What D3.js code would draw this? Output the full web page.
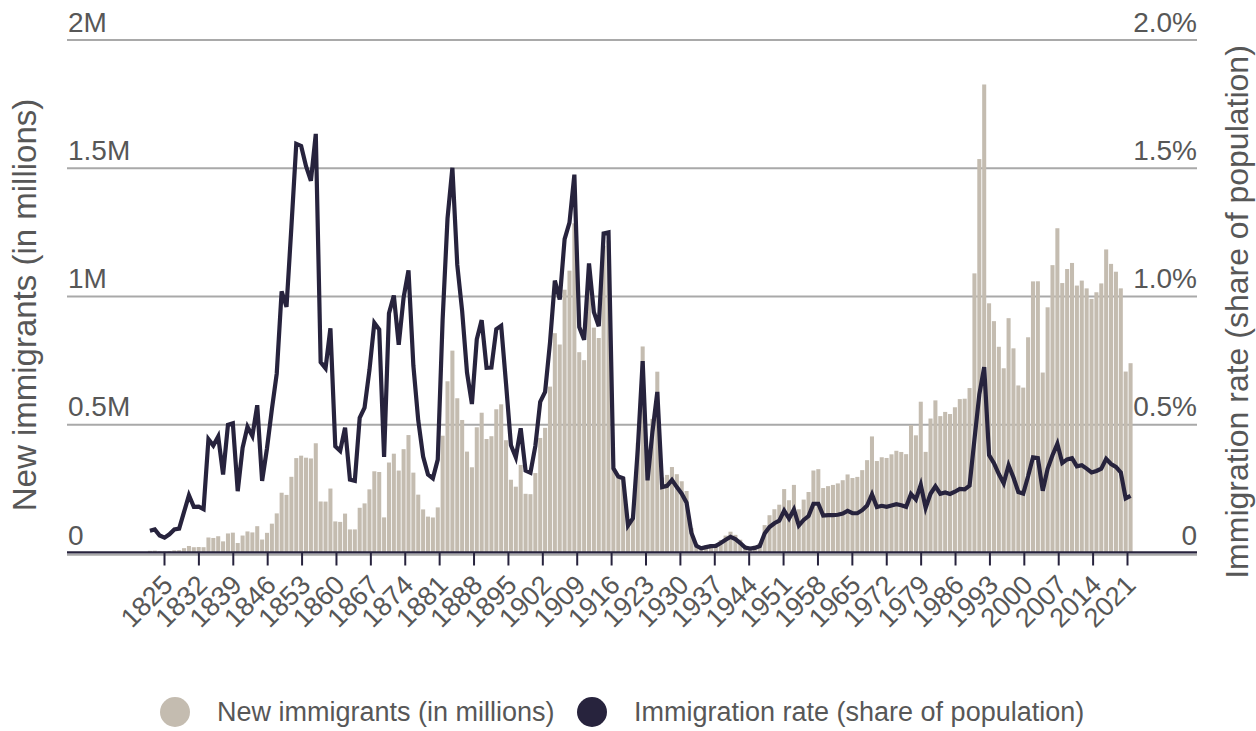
<!DOCTYPE html>
<html><head><meta charset="utf-8">
<script src="https://cdn.jsdelivr.net/npm/d3@7"></script>
<style>
body{margin:0;background:#fff}
svg text{font-family:"Liberation Sans",Arial,sans-serif;fill:#575757}
</style>
</head><body>
<svg id="chart" width="1256" height="731"></svg>
<script>
// ---------- data ----------
const firstYear = 1820, lastYear = 2021;
const years = d3.range(firstYear, lastYear + 1);

// New immigrants per year (persons)
const immigrants = [
  8385, 9127, 6911, 6354, 7912, 10199, 10837, 18875, 27382, 22520,
  23322, 22633, 60482, 58640, 65365, 45374, 76242, 79340, 38914, 68069,
  84066, 80289, 104565, 52496, 78615, 114371, 154416, 234968, 226527, 297024,
  369980, 379466, 371603, 368645, 427833, 200877, 200436, 251306, 123126, 121282,
  153640, 91918, 91985, 176282, 193418, 248120, 318568, 315722, 138840, 352768,
  387203, 321350, 404806, 459803, 313339, 227498, 169986, 141857, 138469, 177826,
  457257, 669431, 788992, 603322, 518592, 395346, 334203, 490109, 546889, 444427,
  455302, 560319, 579663, 439730, 285631, 258536, 343267, 230832, 229299, 311715,
  448572, 487918, 648743, 857046, 812870, 1026499, 1100735, 1285349, 782870, 751786,
  1041570, 878587, 838172, 1197892, 1218480, 326700, 298826, 295403, 110618, 141132,
  430001, 805228, 309556, 522919, 706896, 294314, 304488, 335175, 307255, 279678,
  241700, 97139, 35576, 23068, 29470, 34956, 36329, 50244, 67895, 82998,
  70756, 51776, 28781, 23725, 28551, 38119, 108721, 147292, 170570, 188317,
  249187, 205717, 265520, 170434, 208177, 237790, 321625, 326867, 253265, 260686,
  265398, 271344, 283763, 306260, 292248, 296697, 323040, 361972, 454448, 358579,
  373326, 370478, 384685, 398515, 393919, 385378, 499093, 458755, 589810, 394244,
  524295, 595014, 533624, 550052, 541811, 568149, 600027, 601516, 643025, 1090172,
  1535872, 1826595, 973445, 903916, 803993, 720177, 915560, 797847, 653206, 644787,
  841002, 1058902, 1059356, 703542, 957883, 1122257, 1266129, 1052415, 1107126, 1130818,
  1042625, 1062040, 1031631, 990553, 1016518, 1051031, 1183505, 1127167, 1096611, 1031765,
  707362, 740002
];

// Immigration rate, % of population
const rate = [
  0.087, 0.092, 0.068, 0.060, 0.073, 0.092, 0.095, 0.160, 0.225, 0.180,
  0.181, 0.171, 0.444, 0.419, 0.454, 0.306, 0.500, 0.506, 0.241, 0.410,
  0.492, 0.456, 0.576, 0.281, 0.408, 0.560, 0.700, 1.020, 0.960, 1.270,
  1.595, 1.587, 1.508, 1.451, 1.634, 0.744, 0.720, 0.876, 0.416, 0.398,
  0.489, 0.286, 0.281, 0.527, 0.567, 0.713, 0.897, 0.871, 0.375, 0.934,
  1.004, 0.812, 0.996, 1.102, 0.731, 0.517, 0.376, 0.306, 0.291, 0.364,
  0.911, 1.304, 1.502, 1.123, 0.943, 0.703, 0.581, 0.833, 0.908, 0.722,
  0.723, 0.873, 0.886, 0.659, 0.420, 0.373, 0.486, 0.321, 0.313, 0.417,
  0.589, 0.628, 0.819, 1.062, 0.988, 1.224, 1.288, 1.475, 0.881, 0.831,
  1.129, 0.939, 0.884, 1.246, 1.250, 0.330, 0.298, 0.291, 0.107, 0.135,
  0.406, 0.748, 0.283, 0.472, 0.628, 0.257, 0.262, 0.285, 0.257, 0.231,
  0.196, 0.078, 0.028, 0.018, 0.023, 0.027, 0.028, 0.039, 0.052, 0.063,
  0.054, 0.039, 0.021, 0.017, 0.020, 0.027, 0.076, 0.101, 0.116, 0.126,
  0.165, 0.134, 0.170, 0.107, 0.129, 0.144, 0.192, 0.192, 0.146, 0.148,
  0.148, 0.149, 0.154, 0.164, 0.155, 0.155, 0.167, 0.185, 0.229, 0.179,
  0.184, 0.180, 0.185, 0.190, 0.186, 0.180, 0.230, 0.209, 0.266, 0.176,
  0.231, 0.260, 0.231, 0.236, 0.230, 0.239, 0.250, 0.248, 0.263, 0.442,
  0.618, 0.725, 0.382, 0.350, 0.308, 0.272, 0.342, 0.294, 0.238, 0.232,
  0.299, 0.373, 0.370, 0.243, 0.328, 0.381, 0.426, 0.351, 0.365, 0.370,
  0.338, 0.342, 0.329, 0.314, 0.320, 0.329, 0.367, 0.347, 0.336, 0.314,
  0.213, 0.223
];

const xTickYears = [1825, 1832, 1839, 1846, 1853, 1860, 1867, 1874, 1881, 1888, 1895,
  1902, 1909, 1916, 1923, 1930, 1937, 1944, 1951, 1958, 1965, 1972, 1979, 1986,
  1993, 2000, 2007, 2014, 2021];
const leftTicks = [0, 500000, 1000000, 1500000, 2000000];
const leftTickLabels = ["0", "0.5M", "1M", "1.5M", "2M"];
const rightTicks = [0, 0.5, 1.0, 1.5, 2.0];
const rightTickLabels = ["0", "0.5%", "1.0%", "1.5%", "2.0%"];
const seriesNames = ["New immigrants (in millions)", "Immigration rate (share of population)"];
const leftTitle = "New immigrants (in millions)";
const rightTitle = "Immigration rate (share of population)";

// ---------- layout ----------
const C_BAR = "#c4bcb0", C_LINE = "#27233d", C_GRID = "#a9a9a9", C_TEXT = "#575757";
const plotL = 67, plotR = 1197, y0 = 553, yTop = 40;

const svg = d3.select("#chart");

const xBand = d3.scaleBand().domain(years).range([147.46, 1133.0])
  .paddingInner(0.17).paddingOuter(0.085);
const xTick = d3.scaleLinear().domain([1825, 2021]).range([164, 1127]);
const yL = d3.scaleLinear().domain([0, 2000000]).range([y0, yTop]);
const yR = d3.scaleLinear().domain([0, 2]).range([y0, yTop]);

// gridlines
svg.append("g").selectAll("line").data(leftTicks).join("line")
  .attr("x1", plotL).attr("x2", plotR)
  .attr("y1", d => d === 0 ? yL(d) + 1.8 : yL(d))
  .attr("y2", d => d === 0 ? yL(d) + 1.8 : yL(d))
  .attr("stroke", C_GRID).attr("stroke-width", 2);

// left tick labels
svg.append("g").selectAll("text").data(leftTicks).join("text")
  .attr("x", 68).attr("y", d => yL(d) - 8.5)
  .attr("font-size", 28).style("fill", C_TEXT)
  .text((d, i) => leftTickLabels[i]);

// right tick labels
svg.append("g").selectAll("text").data(rightTicks).join("text")
  .attr("x", plotR).attr("y", d => yR(d) - 8.5)
  .attr("text-anchor", "end")
  .attr("font-size", 28).style("fill", C_TEXT)
  .text((d, i) => rightTickLabels[i]);

// bars
svg.append("g").selectAll("rect").data(years).join("rect")
  .attr("x", d => xBand(d))
  .attr("width", xBand.bandwidth())
  .attr("y", (d, i) => yL(immigrants[i]))
  .attr("height", (d, i) => y0 - yL(immigrants[i]))
  .attr("fill", C_BAR);

// line
const line = d3.line()
  .x((d, i) => xBand(years[i]) + xBand.bandwidth() / 2)
  .y(d => yR(d));
svg.append("path").datum(rate)
  .attr("d", line)
  .attr("fill", "none")
  .attr("stroke", C_LINE)
  .attr("stroke-width", 4.2)
  .attr("stroke-linejoin", "miter")
  .attr("stroke-miterlimit", 4);

// bottom axis
const axis = d3.axisBottom(xTick).tickValues(xTickYears).tickFormat(d3.format("d"))
  .tickSize(13).tickSizeOuter(0);
const gx = svg.append("g").attr("transform", `translate(0,${y0 - 0.5})`).call(axis);
gx.select(".domain").remove();
gx.selectAll(".tick line").attr("stroke", C_LINE).attr("stroke-width", 2);
gx.selectAll(".tick text")
  .attr("x", 0).attr("y", 0).attr("dy", 0)
  .attr("text-anchor", "end")
  .attr("transform", "translate(10,34) rotate(-45)")
  .attr("font-size", 27)
  .attr("font-family", "Liberation Sans, Arial, sans-serif")
  .style("fill", C_TEXT);
svg.append("line")
  .attr("x1", plotL).attr("x2", plotR)
  .attr("y1", y0 - 0.6).attr("y2", y0 - 0.6)
  .attr("stroke", C_LINE).attr("stroke-width", 2.2);

// axis titles
svg.append("text")
  .attr("transform", "translate(36,305) rotate(-90)")
  .attr("text-anchor", "middle").attr("font-size", 33)
  .style("fill", C_TEXT).text(leftTitle);
svg.append("text")
  .attr("transform", "translate(1248,312) rotate(-90)")
  .attr("text-anchor", "middle").attr("font-size", 32)
  .style("fill", C_TEXT).text(rightTitle);

// legend
const legend = svg.append("g");
const legX = [175, 592];
const legColors = [C_BAR, C_LINE];
legend.selectAll("circle").data(seriesNames).join("circle")
  .attr("cx", (d, i) => legX[i]).attr("cy", 712).attr("r", 15)
  .attr("fill", (d, i) => legColors[i]);
legend.selectAll("text").data(seriesNames).join("text")
  .attr("x", (d, i) => legX[i] + 42).attr("y", 721)
  .attr("font-size", 27).style("fill", C_TEXT)
  .text(d => d);
</script>
</body></html>
